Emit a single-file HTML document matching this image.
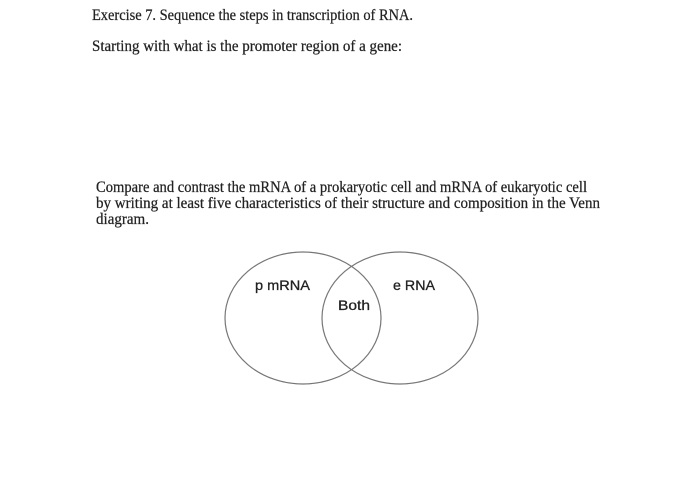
<!DOCTYPE html>
<html><head><style>html,body{margin:0;padding:0;background:#fff;}svg{display:block;}</style></head>
<body>
<svg width="700" height="500" xmlns="http://www.w3.org/2000/svg">
<g font-family="Liberation Serif, serif" font-size="16" fill="#222" stroke="#222" stroke-width="0.25">
<text x="92" y="20" textLength="321" lengthAdjust="spacingAndGlyphs">Exercise 7. Sequence the steps in transcription of RNA.</text>
<text x="92" y="51" textLength="310" lengthAdjust="spacingAndGlyphs">Starting with what is the promoter region of a gene:</text>
<text x="96" y="192" textLength="491" lengthAdjust="spacingAndGlyphs">Compare and contrast the mRNA of a prokaryotic cell and mRNA of eukaryotic cell</text>
<text x="96" y="208" textLength="504" lengthAdjust="spacingAndGlyphs">by writing at least five characteristics of their structure and composition in the Venn</text>
<text x="96" y="224" textLength="53" lengthAdjust="spacingAndGlyphs">diagram.</text>
</g>
<g fill="none" stroke="#777" stroke-width="1.2">
<ellipse cx="303" cy="318" rx="78" ry="66"/>
<ellipse cx="400" cy="318" rx="78" ry="66"/>
</g>
<g font-family="Liberation Sans, sans-serif" font-size="14" fill="#222" stroke="#222" stroke-width="0.3">
<text x="255" y="290" textLength="55" lengthAdjust="spacingAndGlyphs">p mRNA</text>
<text x="393" y="290" textLength="42" lengthAdjust="spacingAndGlyphs">e RNA</text>
<text x="338" y="310" textLength="32" lengthAdjust="spacingAndGlyphs">Both</text>
</g>
</svg>
</body></html>
